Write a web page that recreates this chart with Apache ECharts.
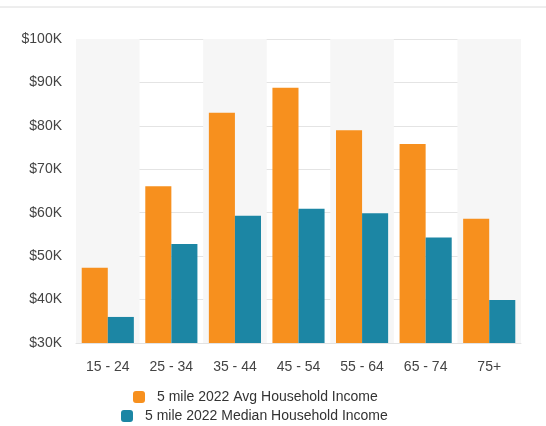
<!DOCTYPE html>
<html>
<head>
<meta charset="utf-8">
<script src="https://cdn.jsdelivr.net/npm/echarts@6/dist/echarts.min.js"></script>
<style>
  html, body { margin: 0; padding: 0; background: #fff; }
  #chart { width: 546px; height: 426px; }
</style>
</head>
<body>
<div id="chart"></div>
<script>
// age groups
const categories = ['15 - 24', '25 - 34', '35 - 44', '45 - 54', '55 - 64', '65 - 74', '75+']
// 5 mile 2022 incomes, dollars
const avgIncome = [47300, 66100, 83000, 88800, 79000, 75800, 58600]
const medianIncome = [36000, 52800, 59300, 60900, 59900, 54300, 39900]
const seriesNames = ['5 mile 2022 Avg Household Income', '5 mile 2022 Median Household Income']
const colors = ['#F7901E', '#1C86A4']

const chart = echarts.init(document.getElementById('chart'))

const legendText = { fontFamily: 'Liberation Sans, Arial, sans-serif', fontSize: 14, color: '#333', padding: [0, 0, 0, 7] }

chart.setOption({
  animation: false,
  color: colors,
  textStyle: { fontFamily: 'Liberation Sans, Arial, sans-serif' },
  graphic: [{
    type: 'line',
    shape: { x1: 0, y1: 7, x2: 546, y2: 7 },
    style: { stroke: '#dcdcdc', lineWidth: 1 }
  }],
  legend: [
    {
      data: [seriesNames[0]],
      top: 385,
      left: 128,
      itemWidth: 12,
      itemHeight: 12,
      icon: 'roundRect',
      textStyle: legendText
    },
    {
      data: [seriesNames[1]],
      top: 404,
      left: 116,
      itemWidth: 12,
      itemHeight: 12,
      icon: 'roundRect',
      textStyle: legendText
    }
  ],
  grid: {
    left: 76,
    right: 25,
    top: 39,
    bottom: 83
  },
  xAxis: {
    type: 'category',
    data: categories,
    axisLine: { lineStyle: { color: '#e2e2e2' } },
    axisTick: { alignWithLabel: true, length: 7, lineStyle: { color: '#666' } },
    axisLabel: { color: '#444', fontSize: 14, margin: 17 },
    splitArea: { show: true, areaStyle: { color: ['#f6f6f6', 'rgba(255,255,255,0)'] } }
  },
  yAxis: {
    type: 'value',
    min: 30000,
    max: 100000,
    interval: 10000,
    axisLine: { show: false },
    axisTick: { show: false },
    axisLabel: {
      color: '#444',
      fontSize: 14,
      margin: 14,
      formatter: v => '$' + v / 1000 + 'K'
    },
    splitLine: { lineStyle: { color: '#e4e4e4' } }
  },
  series: [
    {
      name: seriesNames[0],
      type: 'bar',
      data: avgIncome,
      barGap: '0%',
      barCategoryGap: '18%'
    },
    {
      name: seriesNames[1],
      type: 'bar',
      data: medianIncome
    }
  ]
})
</script>
</body>
</html>
